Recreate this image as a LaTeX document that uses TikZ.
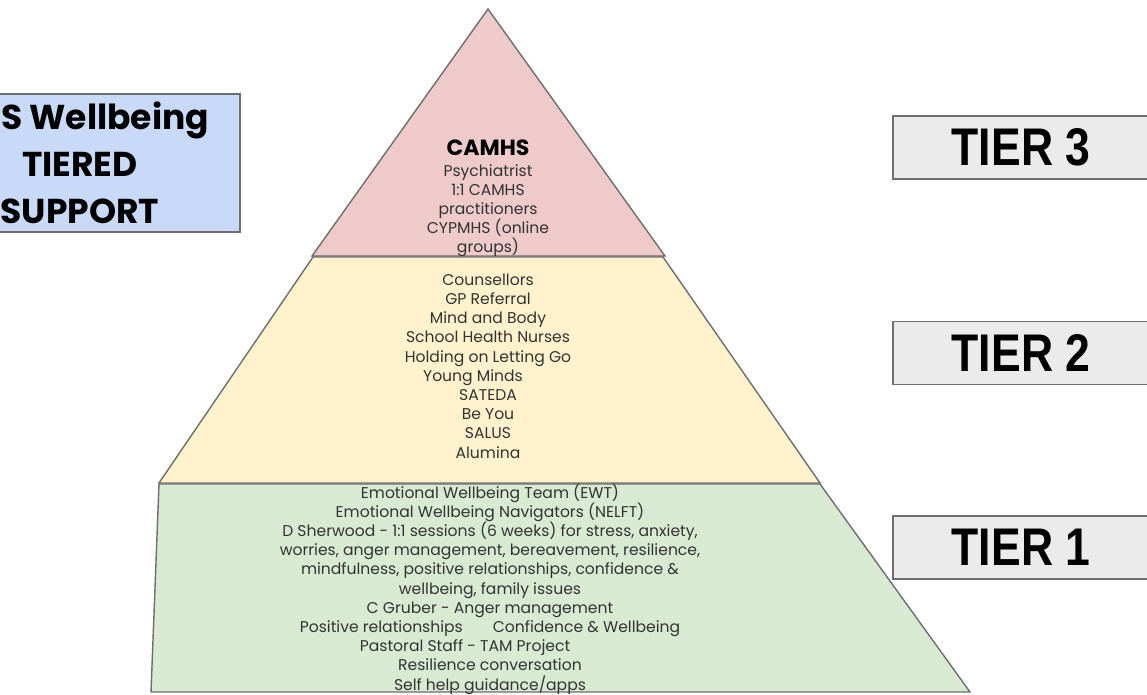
\documentclass[tikz,border=0pt]{standalone}
\usepackage{fontspec}
\setmainfont{Poppins}
\newfontfamily\tierfont{Liberation Sans}
\usepackage{tikz}
\usetikzlibrary{positioning}
\definecolor{tierpink}{HTML}{EECACB}
\definecolor{tieryellow}{HTML}{FFF2CC}
\definecolor{tiergreen}{HTML}{D9EAD3}
\definecolor{titleblue}{HTML}{C9DAF8}
\definecolor{labelgrey}{HTML}{EBEBEB}
\definecolor{edgegrey}{HTML}{6E6E6E}
\tikzset{
  layer/.style   ={draw=edgegrey, line width=1.4pt, line join=miter},
  tierbox/.style ={rectangle, draw=edgegrey, line width=1.4pt, fill=labelgrey,
                   minimum width=256pt, minimum height=63pt, inner sep=0pt,
                   font=\tierfont\bfseries\fontsize{53}{53}\selectfont},
  tiertxt/.style ={align=center, inner sep=0pt, text=black!80,
                   font=\fontsize{15.6}{19.2}\selectfont}
}

\begin{document}
\begin{tikzpicture}[x=1pt, y=-1pt,
  titlebox/.style={rectangle, draw=edgegrey, line width=1.2pt, fill=titleblue,
                   minimum width=272pt, minimum height=138pt, inner sep=0pt},
  titletxt/.style={align=center, inner sep=0pt,
                   font=\bfseries\fontsize{34.5}{47}\selectfont}
]
\clip (0,0) rectangle (1147,695);
\fill[white] (0,0) rectangle (1147,695);

%  Title box 
\node[titlebox] (title) at (104,163) {};
\node[titletxt] (titletext) at (80,163)
      {\hspace*{50pt}S Wellbeing\\ TIERED\\ SUPPORT};

%  Tier 3 
\path[layer, fill=tierpink] (488,9) -- (665,256) -- (312,256) -- cycle;
\node[font=\bfseries\fontsize{22}{22}\selectfont, inner sep=0pt] (camhs)
      at (488,148) {CAMHS};
\node[tiertxt, anchor=north] (t3list) at (488,164)
      {Psychiatrist\\ 1:1 CAMHS\\ practitioners\\ CYPMHS (online\\ groups)};

%  Tier 2 
\path[layer, fill=tieryellow] (313,257) -- (663,257) -- (820,483) -- (159,483) -- cycle;
\node[tiertxt] (t2list) at (488,366)
      {Counsellors\\ GP Referral\\ Mind and Body\\ School Health Nurses\\
       Holding on Letting Go\\ Young Minds\hspace*{30pt}\mbox{}\\ SATEDA\\ Be You\\
       SALUS\\ Alumina};

%  Tier 1 
\path[layer, fill=tiergreen] (159,484) -- (820,484) -- (970,692) -- (151,692) -- cycle;
\node[tiertxt] (t1list) at (490,589)
      {Emotional Wellbeing Team (EWT)\\
       Emotional Wellbeing Navigators (NELFT)\\
       D Sherwood - 1:1 sessions (6 weeks) for stress, anxiety,\\
       worries, anger management, bereavement, resilience,\\
       mindfulness, positive relationships, confidence \&\\
       wellbeing, family issues\\
       C Gruber - Anger management\\
       Positive relationships\hspace{30pt}Confidence \& Wellbeing\\
       Pastoral Staff - TAM Project\hspace*{50pt}\mbox{}\\
       Resilience conversation\\
       Self help guidance/apps};

%  Tier labels 
\node[tierbox] (tier3) at (1021,147.5) {\scalebox{0.84}[1]{TIER 3}};
\node[tierbox] (tier2) at (1021,353)   {\scalebox{0.84}[1]{TIER 2}};
\node[tierbox] (tier1) at (1021,547.5) {\scalebox{0.84}[1]{TIER 1}};
\end{tikzpicture}
\end{document}
